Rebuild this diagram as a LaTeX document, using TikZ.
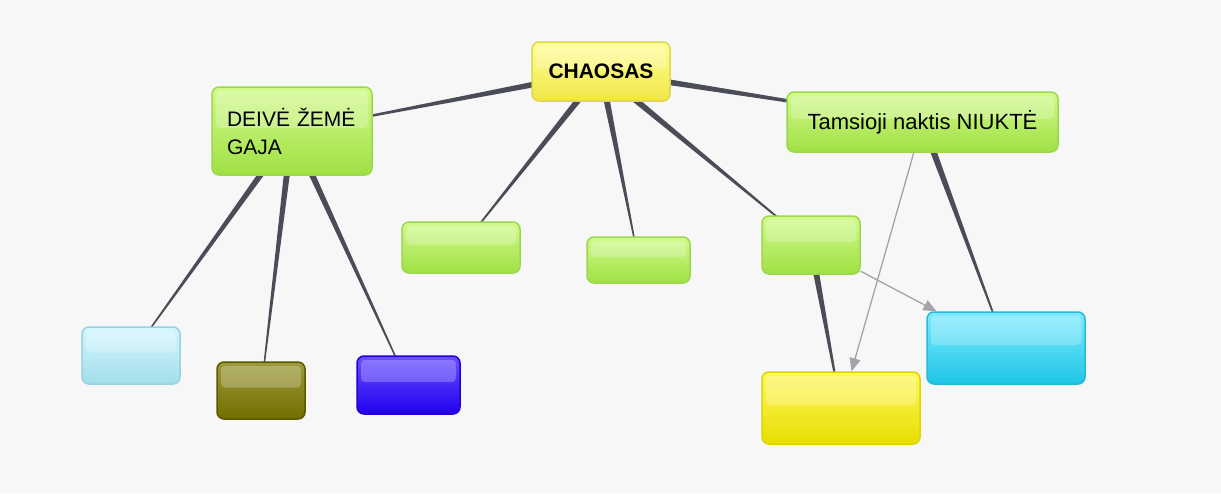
\documentclass[tikz,border=0pt]{standalone}
\usepackage{fontspec}
\setmainfont{Liberation Sans}
\usetikzlibrary{calc,backgrounds,arrows.meta}
\definecolor{bgc}{HTML}{F7F7F7}
\definecolor{connC}{HTML}{4A4D57}
\definecolor{arrC}{HTML}{A2A4AA}
\definecolor{grT}{HTML}{D2FA8C}
\definecolor{grD}{HTML}{A0E044}
\definecolor{grB}{HTML}{9CD84E}
\definecolor{yeT}{HTML}{FFFF96}
\definecolor{yeD}{HTML}{F0E646}
\definecolor{yeB}{HTML}{DED64C}
\definecolor{lcT}{HTML}{D4F6FF}
\definecolor{lcD}{HTML}{A2DEEA}
\definecolor{lcB}{HTML}{98D2E2}
\definecolor{olT}{HTML}{9C9A3C}
\definecolor{olD}{HTML}{736E00}
\definecolor{olB}{HTML}{5C5800}
\definecolor{blT}{HTML}{6A50FF}
\definecolor{blD}{HTML}{2000EE}
\definecolor{blB}{HTML}{2400D0}
\definecolor{ybT}{HTML}{FFF860}
\definecolor{ybD}{HTML}{E8DE00}
\definecolor{ybB}{HTML}{DCD400}
\definecolor{cbT}{HTML}{80EAFF}
\definecolor{cbD}{HTML}{1EC6E6}
\definecolor{cbB}{HTML}{26BADA}
\tikzset{
  box/.style={rectangle, rounded corners=7pt, line width=1.5pt, inner sep=0pt,
    font=\fontsize{22}{28}\selectfont, text=black, align=center,
    path picture={\fill[white,opacity=0.24,rounded corners=4pt]
      ($(path picture bounding box.north west)+(4pt,-4pt)$) rectangle
      ($(path picture bounding box.east)+(-4pt,3pt)$);}},
  gbox/.style={box, draw=grB, top color=grT, bottom color=grD},
  ybox/.style={box, draw=yeB, top color=yeT, bottom color=yeD},
  lcbox/.style={box, draw=lcB, top color=lcT, bottom color=lcD},
  olbox/.style={box, draw=olB, top color=olT, bottom color=olD},
  blbox/.style={box, draw=blB, top color=blT, bottom color=blD},
  ybbox/.style={box, draw=ybB, top color=ybT, bottom color=ybD},
  cbbox/.style={box, draw=cbB, top color=cbT, bottom color=cbD},
  conn/.style={fill=connC},
  arr/.style={draw=arrC, line width=1.3pt, -{Triangle[length=13pt,width=11pt]}},
}
\newcommand\tapconn[2]{\fill[conn] ($(#1)!3.5pt!90:(#2)$) -- ($(#2)!0.4pt!-90:(#1)$) -- ($(#2)!0.4pt!90:(#1)$) -- ($(#1)!3.5pt!-90:(#2)$) -- cycle;}
\begin{document}
\begin{tikzpicture}[x=1pt,y=1pt]
\useasboundingbox (0,0) rectangle (1221,-493);
\node[ybox, minimum width=138pt, minimum height=59pt, font=\fontsize{21}{26}\selectfont\bfseries] (chaos) at (601,-71.5) {CHAOSAS};
\node[gbox, minimum width=160pt, minimum height=88pt, text width=130pt, align=left, font=\fontsize{21}{28}\selectfont] (gaja) at (292,-131) {DEIVĖ ŽEMĖ\\GAJA};
\node[gbox, minimum width=271pt, minimum height=60pt] (nyx) at (922.5,-122) {Tamsioji naktis NIUKTĖ};
\node[gbox, minimum width=118pt, minimum height=51pt] (g1) at (461,-247.5) {};
\node[gbox, minimum width=103pt, minimum height=46pt] (g2) at (638.5,-260) {};
\node[gbox, minimum width=98pt, minimum height=58pt] (g3) at (811,-245) {};
\node[lcbox, minimum width=98pt, minimum height=57pt] (lc) at (131,-355.5) {};
\node[olbox, minimum width=88pt, minimum height=57pt] (ol) at (261,-390.5) {};
\node[blbox, minimum width=103pt, minimum height=58pt] (bl) at (408.5,-385) {};
\node[ybbox, minimum width=158pt, minimum height=72pt] (yb) at (841,-408) {};
\node[cbbox, minimum width=158pt, minimum height=72pt] (cb) at (1006,-348) {};
\begin{scope}[on background layer]
\fill[bgc] (0,0) rectangle (1221,-493);
\tapconn{chaos}{gaja}
\tapconn{chaos}{nyx}
\tapconn{chaos}{g1}
\tapconn{chaos}{g2}
\tapconn{chaos}{g3}
\tapconn{gaja}{lc}
\tapconn{gaja}{ol}
\tapconn{gaja}{bl}
\tapconn{nyx}{cb}
\tapconn{g3}{yb}
\end{scope}
\draw[arr] (nyx) -- (yb);
\draw[arr] (g3) -- (cb);
\end{tikzpicture}
\end{document}
